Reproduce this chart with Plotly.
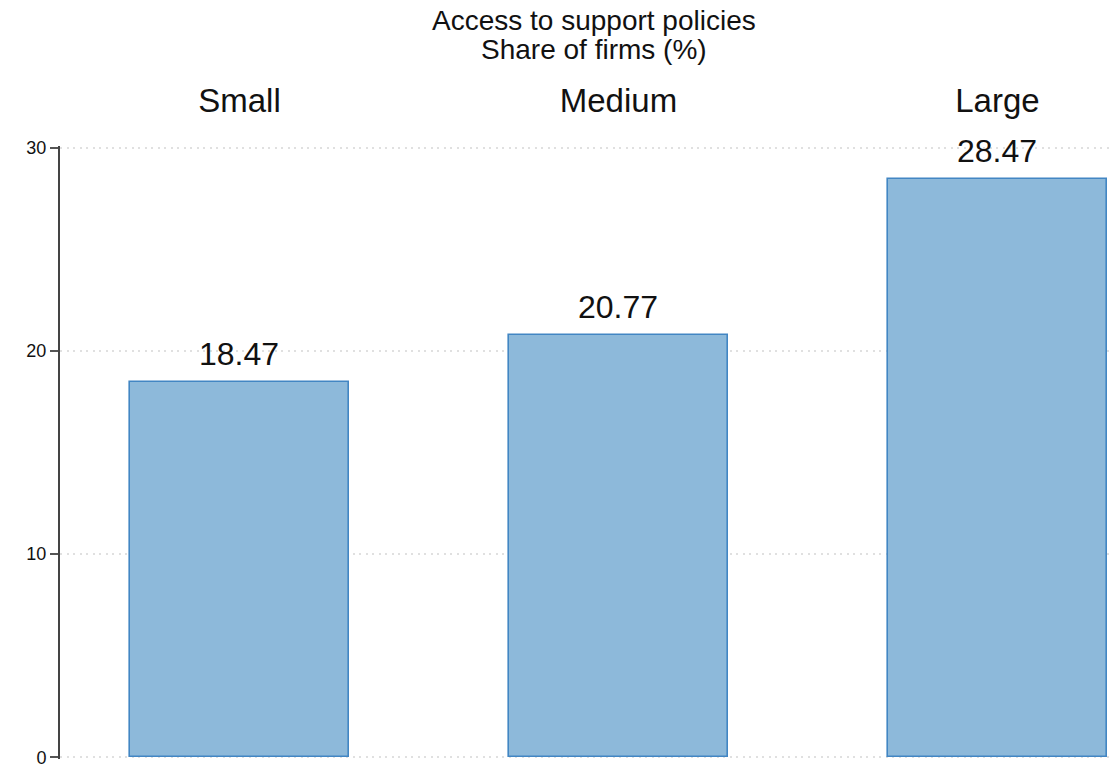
import plotly.graph_objects as go

# Firm size categories and share of firms with access to support policies (%)
categories = ["Small", "Medium", "Large"]
shares = [18.47, 20.77, 28.47]
y_ticks = [0, 10, 20, 30]
title_lines = ["Access to support policies", "Share of firms (%)"]

FONT = "Liberation Sans, Arial, sans-serif"
positions = list(range(len(categories)))

fig = go.Figure()
fig.add_trace(go.Bar(
    x=positions,
    y=shares,
    width=0.578,
    marker=dict(color="#8db9da", line=dict(color="#4286c3", width=1.6)),
    hoverinfo="skip",
))

# Value labels above each bar
for xi, v in zip(positions, shares):
    fig.add_annotation(
        x=xi, y=v, text=f"{v:.2f}", showarrow=False,
        yanchor="bottom", yshift=8,
        font=dict(family=FONT, size=32, color="#111111"),
    )

# Two-line title, tightly stacked above the category labels
for text, ypos in zip(title_lines, [1.2055, 1.158]):
    fig.add_annotation(
        x=0.5086, y=ypos, xref="paper", yref="paper", text=text,
        showarrow=False, xanchor="center", yanchor="middle",
        font=dict(family=FONT, size=28, color="#111111"),
    )

fig.update_layout(
    width=1114, height=765,
    margin=dict(l=60, r=4, t=146, b=6, autoexpand=False),
    paper_bgcolor="white", plot_bgcolor="white",
    showlegend=False,
    font=dict(family=FONT, color="#111111"),
    bargap=0,
    xaxis=dict(
        side="top",
        range=[-0.4736, 2.297],
        tickmode="array", tickvals=positions, ticktext=categories,
        ticks="", showline=False, showgrid=False, zeroline=False,
        tickfont=dict(family=FONT, size=33, color="#111111"),
        ticklabelstandoff=26,
        automargin=False,
    ),
    yaxis=dict(
        range=[-0.08, 30.08],
        tickmode="array", tickvals=y_ticks,
        ticks="outside", ticklen=8, tickwidth=1.5, tickcolor="#555555",
        showline=True, linecolor="#444444", linewidth=2,
        showgrid=True, gridcolor="#e0e0e0", griddash="2px,4.5px", gridwidth=1.5,
        zeroline=False,
        ticklabeloverflow="allow",
        automargin=False,
        tickfont=dict(family=FONT, size=18, color="#111111"),
    ),
)

fig.write_html("out.html")
